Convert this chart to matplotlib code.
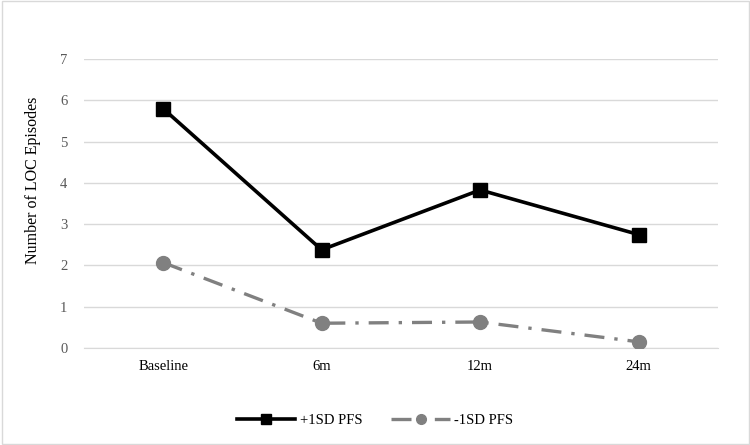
import matplotlib.pyplot as plt
from matplotlib.patches import Rectangle

categories = ['Baseline', '6m', '12m', '24m']
plus_1sd = [5.8, 2.38, 3.83, 2.75]
minus_1sd = [2.07, 0.6, 0.63, 0.15]
y_ticks = [0, 1, 2, 3, 4, 5, 6, 7]

plt.rcParams['font.family'] = ['Liberation Serif', 'DejaVu Serif']

fig = plt.figure(figsize=(7.5, 4.45), dpi=100)
ax = fig.add_axes([0.112, 0.218, 0.845, 0.649])

x = range(len(categories))
ax.plot(x, plus_1sd, color='black', lw=2.6, marker='s', ms=10, label='+1SD PFS', zorder=3)
ax.plot(x, minus_1sd, color='#808080', lw=2.4, ls=(0, (6, 3, 1, 3)), marker='o', ms=10,
        label='-1SD PFS', zorder=3)

ax.set_xlim(-0.5, 3.5)
ax.set_ylim(0, 7)
ax.set_yticks(y_ticks)
ax.set_xticks(list(x))
ax.set_xticklabels(categories)
ax.grid(axis='y', color='#d9d9d9', lw=1)
ax.set_axisbelow(True)
for s in ['top', 'right', 'left']:
    ax.spines[s].set_visible(False)
ax.spines['bottom'].set_color('#d9d9d9')
ax.tick_params(axis='both', length=0, labelsize=10.5, colors='#595959', pad=12)
ax.tick_params(axis='x', colors='black', pad=9)
ax.set_ylabel('Number of LOC Episodes', fontsize=11.5)
ax.yaxis.set_label_coords(-0.068, 0.58)

fig.legend(loc='center', bbox_to_anchor=(0.5, 0.056), ncol=2, frameon=False, fontsize=10.5,
           handlelength=4, columnspacing=2, markerscale=0.7, handletextpad=0.3)

fig.add_artist(Rectangle((0.002, 0.003), 0.996, 0.994, transform=fig.transFigure,
                         fill=False, edgecolor='#d9d9d9', lw=1))

fig.savefig('out.png', dpi=100)
